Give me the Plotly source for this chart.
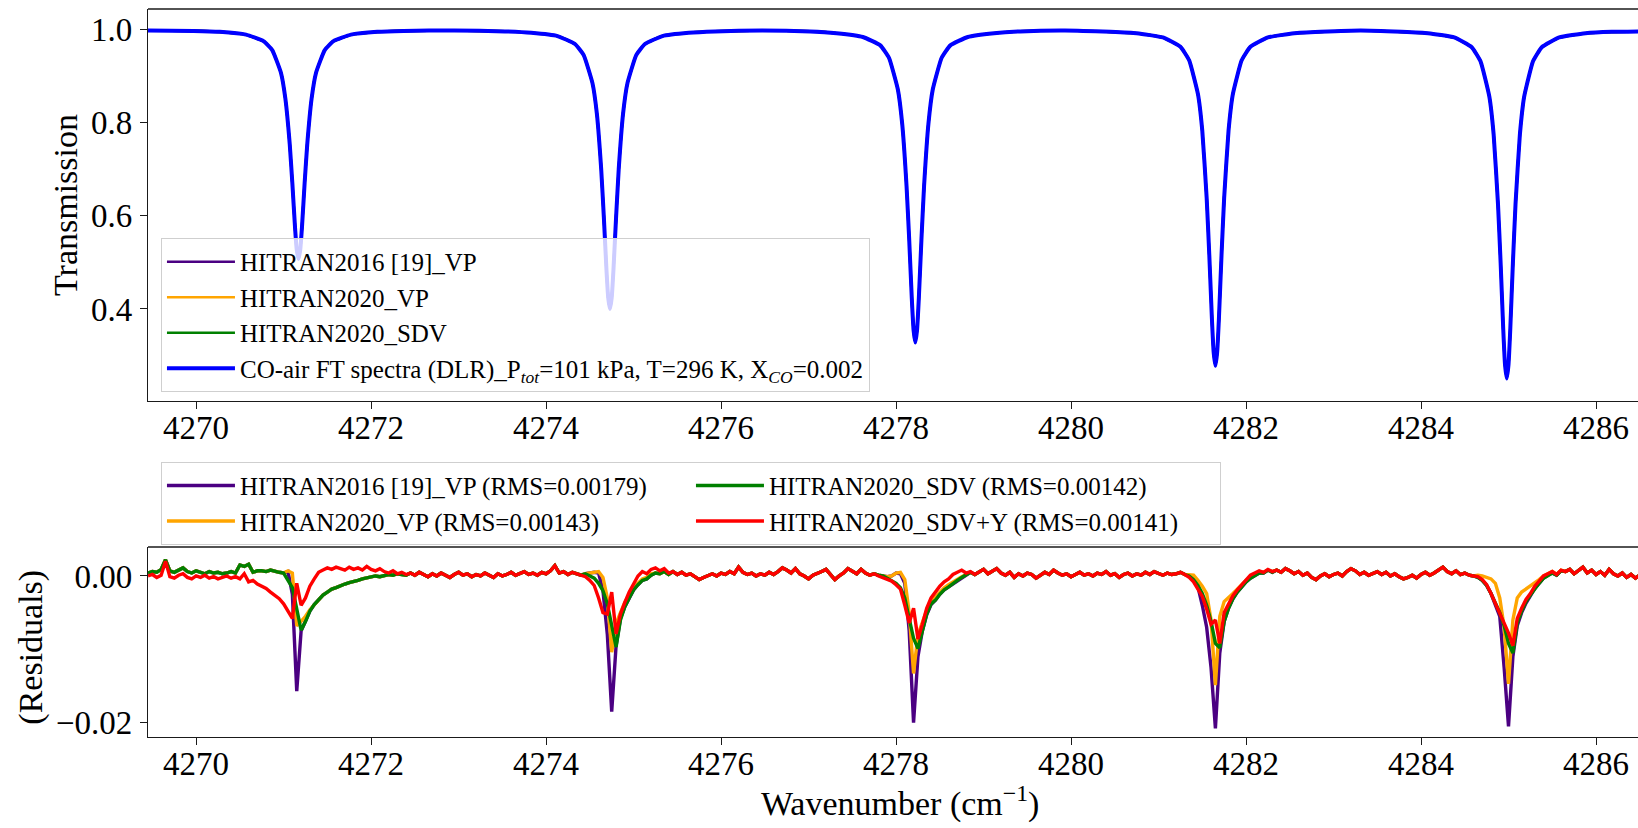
import numpy as np
import plotly.graph_objects as go

FONT = "Liberation Serif, Times New Roman, serif"

# ---------------- top panel: transmission ----------------
wn_tr = [4269.45,
         4269.97, 4270.27, 4270.57, 4270.77, 4270.87, 4270.97, 4271.02, 4271.07, 4271.10, 4271.13, 4271.15, 4271.17,
         4271.19, 4271.21, 4271.24, 4271.27, 4271.32, 4271.37, 4271.47, 4271.57, 4271.77, 4272.07, 4272.37,
         4272.95,
         4273.53, 4273.83, 4274.13, 4274.33, 4274.43, 4274.53, 4274.58, 4274.63, 4274.66, 4274.69, 4274.71, 4274.73,
         4274.75, 4274.77, 4274.80, 4274.83, 4274.88, 4274.93, 4275.03, 4275.13, 4275.33, 4275.63, 4275.93,
         4276.47,
         4277.02, 4277.32, 4277.62, 4277.82, 4277.92, 4278.02, 4278.07, 4278.12, 4278.15, 4278.18, 4278.20, 4278.22,
         4278.24, 4278.26, 4278.29, 4278.32, 4278.37, 4278.42, 4278.52, 4278.62, 4278.82, 4279.12, 4279.42,
         4279.93,
         4280.45, 4280.75, 4281.05, 4281.25, 4281.35, 4281.45, 4281.50, 4281.55, 4281.58, 4281.61, 4281.63, 4281.65,
         4281.67, 4281.69, 4281.72, 4281.75, 4281.80, 4281.85, 4281.95, 4282.05, 4282.25, 4282.55, 4282.85,
         4283.31,
         4283.78, 4284.08, 4284.38, 4284.58, 4284.68, 4284.78, 4284.83, 4284.88, 4284.91, 4284.94, 4284.96, 4284.98,
         4285.00, 4285.02, 4285.05, 4285.08, 4285.13, 4285.18, 4285.28, 4285.38, 4285.58, 4285.88, 4286.18,
         4286.55]

tr_obs = [0.997,
          0.996, 0.994, 0.988, 0.974, 0.955, 0.906, 0.851, 0.753, 0.669, 0.576, 0.527, 0.507,
          0.527, 0.576, 0.669, 0.753, 0.851, 0.906, 0.955, 0.974, 0.988, 0.994, 0.996,
          0.997,
          0.995, 0.992, 0.985, 0.968, 0.944, 0.884, 0.819, 0.699, 0.597, 0.484, 0.424, 0.400,
          0.424, 0.484, 0.597, 0.699, 0.819, 0.884, 0.944, 0.968, 0.985, 0.992, 0.995,
          0.997,
          0.995, 0.991, 0.983, 0.965, 0.938, 0.871, 0.797, 0.663, 0.549, 0.422, 0.355, 0.328,
          0.355, 0.422, 0.549, 0.663, 0.797, 0.871, 0.938, 0.965, 0.983, 0.991, 0.995,
          0.997,
          0.994, 0.991, 0.982, 0.962, 0.933, 0.861, 0.782, 0.638, 0.516, 0.379, 0.307, 0.278,
          0.307, 0.379, 0.516, 0.638, 0.782, 0.861, 0.933, 0.962, 0.982, 0.991, 0.994,
          0.997,
          0.994, 0.991, 0.982, 0.961, 0.931, 0.856, 0.774, 0.624, 0.498, 0.356, 0.281, 0.251,
          0.281, 0.356, 0.498, 0.624, 0.774, 0.856, 0.931, 0.961, 0.982, 0.991, 0.994,
          0.995]

top_names = ["HITRAN2016 [19]_VP", "HITRAN2020_VP", "HITRAN2020_SDV"]
obs_name = ("CO-air FT spectra (DLR)_P<sub><i>tot</i></sub>=101 kPa, T=296 K, "
            "X<sub><i>CO</i></sub>=0.002")

# ---------------- bottom panel: residuals ----------------
# spectral sampling grid (0.05 cm-1)
wn_res = np.round(np.arange(4269.45, 4286.5501, 0.05), 2)

# residual values in units of 1e-4
# shared stretches (all models coincide away from the lines)
base_s1 = [4, 1, 5, 2, -1, 3, 0, 4, 1, -2, 2, 5, 1, 3, -1, 2, 0, 4, 1, -2,
           3, 0, 2, 5, 1, 3, 6, 2, 4, 1, 5, 3, 7, 14, 4, 6, 2, 5, 3, 1]
base_s3 = [6, 2, 5, 1, 3, -1, -5, -2, 1, 3, 0, 4, 2, 6, 3, 12, 5, 2, 4, 0,
           3, 1, 5, 2, 6, 11, 8, 4, 10, 3, 0, -4, 1, 3, 6, 9, 2, -5, 0, 4,
           10, 7, 3, 9, 4, 1]
base_s5 = [5, 9, 3, 7, 10, 4, 1, 5, -2, 3, 0, 4, 2, -3, 1, 5, 2, 8, 4, 1,
           3, -1, 2, 5, 1, 3, 0, 4, 2, 6, 1, 3, -2, 2, 4, 0, 3, 1, 5, 2,
           6, 3, 1, 4, 2, 3, 5, 2]
base_s7 = [8, 5, 10, 7, 3, 6, 1, 4, -2, -5, 0, 3, -1, 2, 4, 0, 6, 10, 7, 2,
           5, 1, 4, 6, 2, 5, 0, 3, -1, -4, -2, 1, -3, 2, 5, 1, 4, 8, 12, 6,
           3, 7, 2, 4, 1, 0]
base_s9 = [6, 9, 3, 7, 12, 4, 8, 2, 6, 1, 9, 3, 0, 4, -2, 2, -3, 1, -4]

# model residuals around 4269.45-4272.40 (the three HITRAN models share the wings)
hv_s0_left = [4, 6, 5, 9, 22, 7, 5, 8, 11, 6, 4, 7, 5, 3, 6, 4, 5, 3, 4, 6]
hv_s0_right = [-26, -22, -18, -16, -13, -11, -9, -8, -6, -4, -3, -1, 0, -1, 1, 2, 1, 3, 2, 1]

# HITRAN2016 [19]_VP
vp16_s0_mid = [4, 15, 13, 16, 5, 7, 7, 6, 8, 6, 5, 4, 6, -25, -157, -75, -62, -48, -39, -32]
vp16_s2 = [3, 4, 5, 4, -20, -80, -185, -95, -58, -42, -30, -19, -12, -6, -4, 1, 4, 3, 6, 2]
vp16_s4 = [3, 1, 0, -1, 0, 4, 3, -10, -75, -200, -110, -75, -53, -39, -33, -25, -19, -15, -10, -6,
           -2, 1, 5, 2]
vp16_s6 = [0, -5, -15, -40, -70, -125, -208, -105, -62, -44, -31, -22, -15, -8, -3, 1, 4, 4, 8, 5]
vp16_s8 = [-2, -6, -13, -24, -40, -55, -125, -205, -110, -68, -50, -37, -27, -17, -10, -3, 1, 4, 1, 7]

# HITRAN2020_VP
vp20_s0_mid = [4, 15, 13, 16, 5, 7, 7, 6, 8, 6, 5, 4, 7, 4, -68, -62, -55, -46, -39, -32]
vp20_s2 = [3, 4, 5, 6, -2, -30, -104, -65, -50, -36, -26, -16, -10, -4, -2, 3, 4, 3, 6, 2]
vp20_s4 = [3, 1, 0, -1, 0, 4, 5, -5, -50, -133, -80, -64, -47, -35, -29, -22, -16, -12, -8, -5,
           -1, 2, 5, 2]
vp20_s6 = [2, 1, -6, -14, -24, -60, -149, -55, -35, -30, -24, -18, -12, -6, -2, 2, 6, 5, 8, 6]
vp20_s8 = [1, 0, -2, -4, -10, -30, -70, -147, -60, -30, -22, -18, -14, -9, -5, 0, 3, 6, 2, 8]

# HITRAN2020_SDV
sdv_s0_mid = [4, 15, 13, 16, 5, 7, 7, 6, 8, 6, 5, 4, -5, -16, -45, -74, -62, -48, -39, -32]
sdv_s2 = [3, 0, -3, -10, -20, -38, -70, -97, -60, -42, -30, -19, -12, -6, -4, 1, 4, 3, 6, 2]
sdv_s4 = [3, 1, 0, -3, -6, -10, -16, -30, -58, -85, -99, -74, -52, -38, -33, -25, -19, -15, -10, -6,
          -2, 1, 5, 2]
sdv_s6 = [0, -5, -13, -24, -40, -62, -92, -98, -62, -44, -31, -22, -15, -8, -3, 1, 4, 4, 8, 5]
sdv_s8 = [-2, -6, -13, -24, -36, -50, -68, -92, -105, -64, -48, -35, -26, -17, -10, -3, 1, 4, 1, 7]

# HITRAN2020_SDV+Y
sdvy_s0 = [0, 2, -2, 1, 20, -1, -3, 1, 3, -2, -4, 0, -2, 1, -3, -1, -4, -2, 0, -3,
           -1, -4, 3, -8, -6, -11, -14, -17, -22, -26, -31, -38, -47, -58, -10, -40, -30, -14, -4, 5,
           8, 11, 9, 12, 10, 8, 12, 9, 11, 8, 13, 9, 7, 10, 6, 4, 7, 3, 5, 2]
sdvy_s2 = [-1, -6, -13, -30, -50, -52, -22, -79, -52, -36, -22, -11, 0, 6, 3, 9, 11, 7, 10, 4]
sdvy_s4 = [3, 0, -2, -4, -7, -12, -18, -40, -64, -44, -86, -66, -44, -30, -22, -14, -8, -4, 2, 5,
           8, 4, 6, 2]
sdvy_s6 = [-2, -8, -18, -28, -45, -66, -60, -92, -50, -38, -27, -19, -12, -5, 1, 4, 7, 5, 9, 6]
sdvy_s8 = [-1, -5, -12, -24, -38, -50, -64, -78, -95, -58, -44, -32, -24, -14, -7, 0, 3, 6, 2, 8]

res_vp16_e4 = (hv_s0_left + vp16_s0_mid + hv_s0_right + base_s1 + vp16_s2 + base_s3 + vp16_s4
               + base_s5 + vp16_s6 + base_s7 + vp16_s8 + base_s9)
res_vp20_e4 = (hv_s0_left + vp20_s0_mid + hv_s0_right + base_s1 + vp20_s2 + base_s3 + vp20_s4
               + base_s5 + vp20_s6 + base_s7 + vp20_s8 + base_s9)
res_sdv_e4 = (hv_s0_left + sdv_s0_mid + hv_s0_right + base_s1 + sdv_s2 + base_s3 + sdv_s4
              + base_s5 + sdv_s6 + base_s7 + sdv_s8 + base_s9)
res_sdvy_e4 = (sdvy_s0 + base_s1 + sdvy_s2 + base_s3 + sdvy_s4
               + base_s5 + sdvy_s6 + base_s7 + sdvy_s8 + base_s9)

res_names = ["HITRAN2016 [19]_VP (RMS=0.00179)", "HITRAN2020_VP (RMS=0.00143)",
             "HITRAN2020_SDV (RMS=0.00142)", "HITRAN2020_SDV+Y (RMS=0.00141)"]
res_series = [res_vp16_e4, res_vp20_e4, res_sdv_e4, res_sdvy_e4]
for s in res_series:
    assert len(s) == len(wn_res), (len(s), len(wn_res))

colors = ["#4B0082", "#FFA500", "#008000", "#FF0000"]
blue = "#0000FF"
legend_rank = [1, 3, 2, 4]   # two-column legend: col1 = VP16, VP20 ; col2 = SDV, SDV+Y

xtick = [4270, 4272, 4274, 4276, 4278, 4280, 4282, 4284, 4286]
xrange_ = [4269.45, 4286.48]

fig = go.Figure()
for name, col in zip(top_names, colors[:3]):
    fig.add_trace(go.Scatter(x=wn_tr, y=tr_obs, mode="lines", name=name,
                             line=dict(color=col, width=2.6, shape="spline", smoothing=0.4),
                             xaxis="x", yaxis="y", legend="legend"))
fig.add_trace(go.Scatter(x=wn_tr, y=tr_obs, mode="lines", name=obs_name,
                         line=dict(color=blue, width=4, shape="spline", smoothing=0.4),
                         xaxis="x", yaxis="y", legend="legend"))

for name, col, s, rk in zip(res_names, colors, res_series, legend_rank):
    fig.add_trace(go.Scatter(x=wn_res, y=np.array(s) * 1e-4, mode="lines", name=name,
                             line=dict(color=col, width=3.4),
                             xaxis="x2", yaxis="y2", legend="legend2", legendrank=rk))

LC = "#1a1a1a"
AX = dict(showline=True, linecolor=LC, linewidth=1.3, ticks="outside", ticklen=7,
          tickwidth=1.3, tickcolor=LC, showgrid=False, zeroline=False, automargin=False,
          tickfont=dict(family=FONT, size=33, color="black"))

legend_common = dict(bgcolor="rgba(255,255,255,0.8)", bordercolor="#cfcfcf", borderwidth=1,
                     font=dict(family=FONT, size=25, color="black"), xanchor="left",
                     itemwidth=68)

fig.update_layout(
    width=1638, height=828,
    margin=dict(l=148, r=0, t=9, b=91),
    paper_bgcolor="white", plot_bgcolor="white",
    xaxis=dict(AX, domain=[0, 1], anchor="y", range=xrange_, tickvals=xtick, ticklabelstandoff=-10),
    yaxis=dict(AX, domain=[0.4615, 1], anchor="x", range=[0.2026, 1.043],
               tickvals=[0.4, 0.6, 0.8, 1.0], tickformat=".1f", ticklabelstandoff=1),
    xaxis2=dict(AX, domain=[0, 1], anchor="y2", range=xrange_, tickvals=xtick, ticklabelstandoff=-10),
    yaxis2=dict(AX, domain=[0, 0.261], anchor="x2", range=[-0.02196, 0.00395],
                tickvals=[-0.02, 0.0], tickformat=".2f", ticklabelstandoff=1),
    legend=dict(legend_common, x=0.0087, y=0.474, yanchor="bottom", tracegroupgap=0),
    legend2=dict(legend_common, orientation="h", x=0.0087, y=0.378, yanchor="top",
                 entrywidth=446, entrywidthmode="pixels", traceorder="normal"),
    showlegend=True,
    shapes=[
        dict(type="line", xref="x domain", yref="y domain", x0=0, x1=1, y0=1, y1=1,
             line=dict(color=LC, width=1.3)),
        dict(type="line", xref="x2 domain", yref="y2 domain", x0=0, x1=1, y0=1, y1=1,
             line=dict(color=LC, width=1.3)),
    ],
    annotations=[
        dict(text="Transmission", xref="paper", yref="y domain", x=0, y=0.5, xshift=-83,
             textangle=-90, showarrow=False, xanchor="center", yanchor="middle",
             font=dict(family=FONT, size=34, color="black")),
        dict(text="(Residuals)", xref="paper", yref="y2 domain", x=0, y=0.47, xshift=-117,
             textangle=-90, showarrow=False, xanchor="center", yanchor="middle",
             font=dict(family=FONT, size=34, color="black")),
        dict(text="Wavenumber (cm<sup>\u22121</sup>)", xref="paper", yref="paper",
             x=(900 - 148) / 1490, y=0, yshift=-88, showarrow=False,
             xanchor="center", yanchor="bottom",
             font=dict(family=FONT, size=34, color="black")),
    ],
)

fig.write_html("out.html", config={"displayModeBar": False},
               post_script="document.body.style.margin='0';")
